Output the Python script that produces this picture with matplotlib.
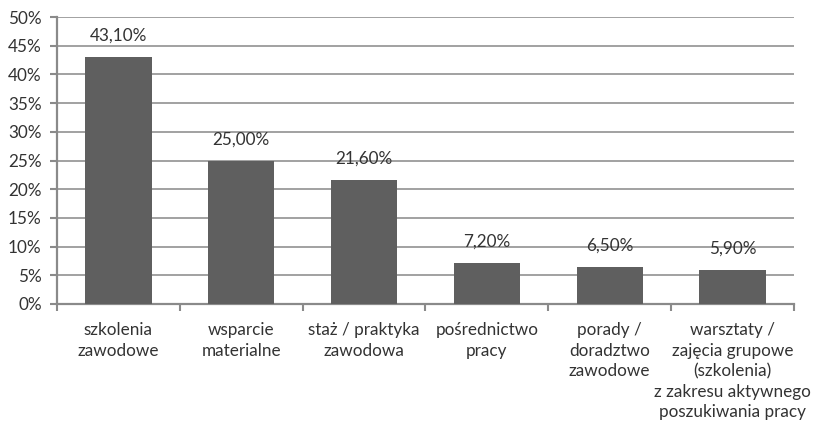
import numpy as np
import matplotlib.pyplot as plt
from matplotlib.ticker import MultipleLocator, FuncFormatter

plt.rcParams['font.family'] = ['Lato', 'DejaVu Sans']

categories = ["szkolenia\nzawodowe", "wsparcie\nmaterialne", "staż / praktyka\nzawodowa",
              "pośrednictwo\npracy", "porady /\ndoradztwo\nzawodowe",
              "warsztaty /\nzajęcia grupowe\n(szkolenia)\nz zakresu aktywnego\nposzukiwania pracy"]
values = [43.1, 25.0, 21.6, 7.2, 6.5, 5.9]
labels = ["43,10%", "25,00%", "21,60%", "7,20%", "6,50%", "5,90%"]

fig = plt.figure(figsize=(8.14, 4.22), dpi=100)
ax = fig.add_axes([57 / 814, 1 - 304 / 422, (794 - 57) / 814, (304 - 17) / 422])

x = np.arange(len(values))
ax.bar(x, values, width=0.54, color='#5f5f5f', zorder=3)
for xi, v, lab in zip(x, values, labels):
    ax.text(xi, v + 2.3, lab, ha='center', va='bottom', fontsize=12.3, color='#333333')

ax.set_xlim(-0.5, len(values) - 0.5)
ax.set_ylim(0, 50)
ax.yaxis.set_major_locator(MultipleLocator(5))
ax.yaxis.set_major_formatter(FuncFormatter(lambda v, p: f"{v:.0f}%"))
ax.grid(axis='y', color='#9a9a9a', linewidth=1.3, zorder=0)

ax.set_xticks(np.arange(-0.5, len(values)), minor=False)
ax.set_xticklabels([])
ax.set_xticks(x, minor=True)
ax.set_xticklabels(categories, minor=True, fontsize=12.3, color='#333333', linespacing=1.35)
ax.tick_params(axis='x', which='minor', length=0, pad=13)
ax.tick_params(axis='x', which='major', length=5, width=1.5, color='#8a8a8a')
ax.tick_params(axis='y', length=5, width=1.5, color='#8a8a8a', labelsize=12.3,
               labelcolor='#333333', pad=6)

for s in ['top', 'right']:
    ax.spines[s].set_visible(False)
for s in ['left', 'bottom']:
    ax.spines[s].set_color('#8a8a8a')
    ax.spines[s].set_linewidth(1.6)

fig.savefig('out.png', dpi=100)
